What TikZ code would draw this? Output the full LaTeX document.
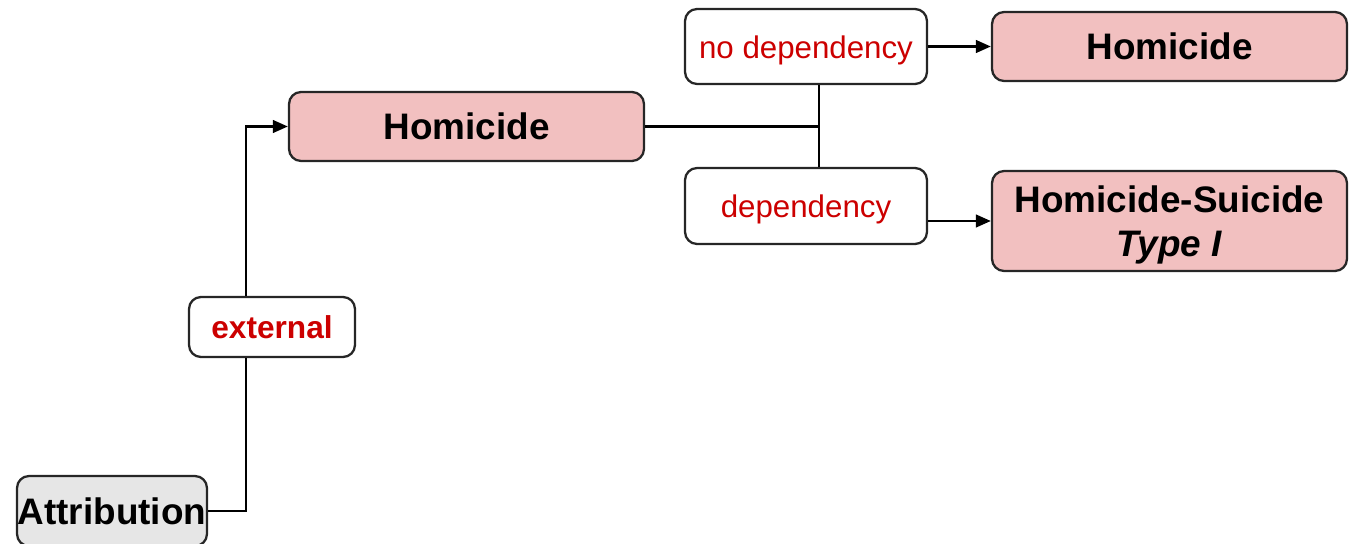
\documentclass[tikz,border=0pt]{standalone}
\usepackage{fontspec}
\setmainfont{Liberation Sans}
\usetikzlibrary{arrows.meta}
\definecolor{pinkbox}{HTML}{F2C0C0}
\definecolor{greybox}{HTML}{E6E6E6}
\definecolor{darkred}{HTML}{CC0000}
\newcommand{\lowertext}[2]{\raisebox{-#1}[\height][\depth]{#2}}
\begin{document}
\begin{tikzpicture}[x=0.02cm,y=-0.02cm,
  box/.style={draw=black!85,line width=1.3pt,rounded corners=0.24cm,align=center,inner sep=0pt},
  result/.style={box,fill=pinkbox,font=\fontsize{21}{24}\selectfont\bfseries,minimum width=7.1cm},
  branch/.style={box,fill=white,text=darkred,font=\fontsize{17.8}{20}\selectfont,minimum width=4.84cm,minimum height=1.5cm},
  link/.style={line width=1.5pt},
  arrow/.style={link,-{Triangle[length=0.3cm,width=0.25cm]}}]
  \useasboundingbox (0,0) rectangle (1349,544);
  % nodes
  \node[box,fill=greybox,font=\fontsize{21}{24}\selectfont\bfseries,minimum width=3.8cm,minimum height=1.4cm] (attr) at (112,511) {Attribution};
  \node[box,fill=white,text=darkred,font=\fontsize{18}{21}\selectfont\bfseries,minimum width=3.32cm,minimum height=1.2cm] (ext) at (272,327) {external};
  \node[result,minimum height=1.38cm] (hom) at (466.5,126.5) {Homicide};
  \node[branch] (nodep) at (806,46.5) {\lowertext{0.08cm}{no dependency}};
  \node[branch,minimum height=1.52cm] (dep) at (806,206) {\lowertext{0.06cm}{dependency}};
  \node[result,minimum height=1.38cm] (homfin) at (1169.5,46.5) {Homicide};
  \node[result,minimum height=2cm] (homsui) at (1169.5,221) {\lowertext{0.07cm}{Homicide-Suicide}\\\lowertext{0.09cm}{\textit{Type I}}};
  % junctions
  \coordinate (jx) at (246,0);
  \coordinate (jy) at (819,0);
  % connectors
  \draw[link] (attr.east) -| (ext.south -| jx);
  \draw[arrow] (ext.north -| jx) |- (hom.west);
  \draw[link] (hom.east) -- (hom.east -| jy);
  \draw[link] (nodep.south -| jy) -- (dep.north -| jy);
  \draw[arrow] (nodep.east) -- (homfin.west);
  \draw[arrow] (homsui.west -| dep.east) -- (homsui.west);
\end{tikzpicture}
\end{document}
